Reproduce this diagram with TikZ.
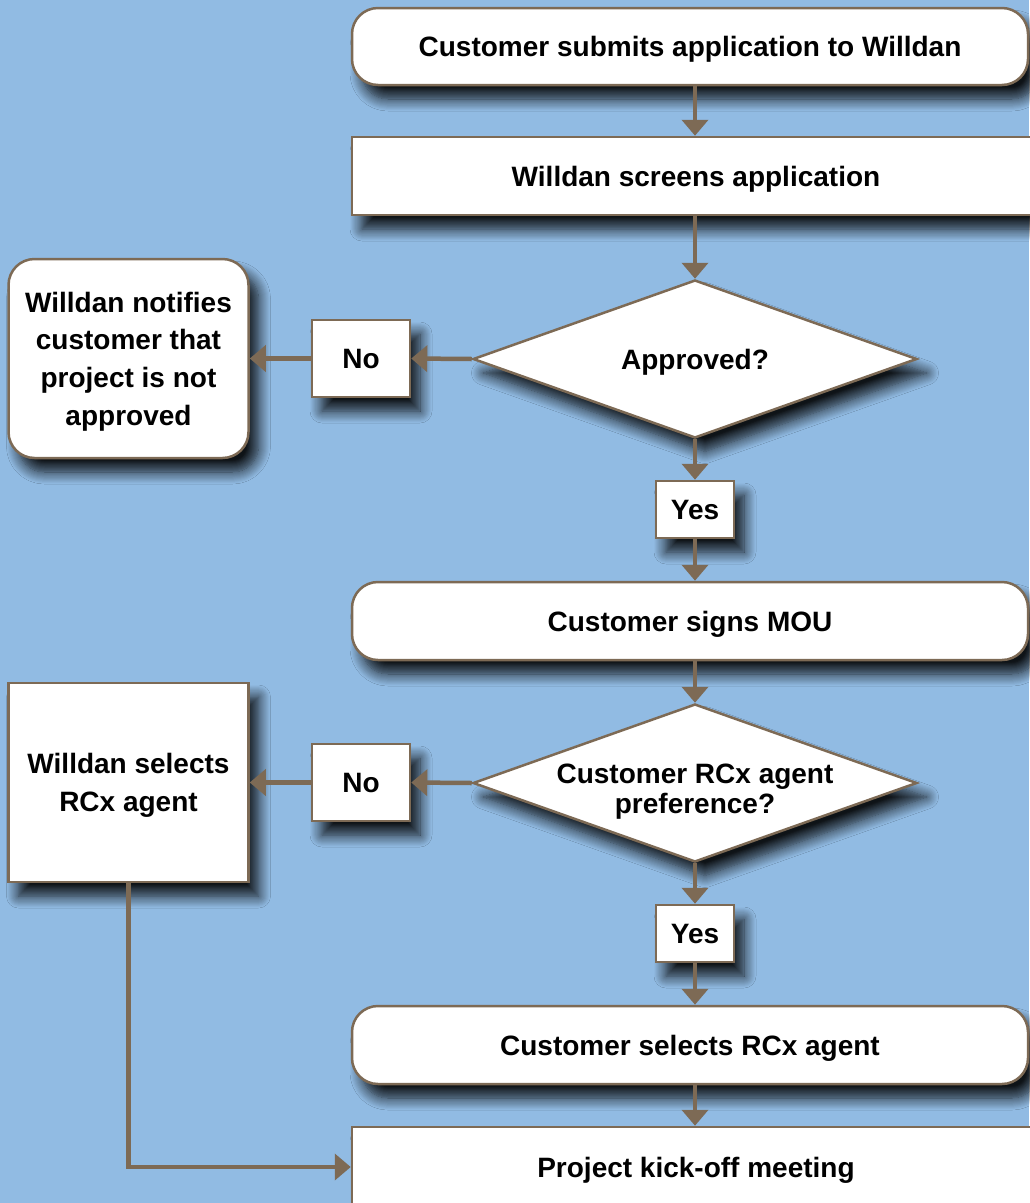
\documentclass[tikz,border=0pt]{standalone}
\usepackage{fontspec}
\setmainfont{Liberation Sans}
\usetikzlibrary{shapes.geometric,arrows.meta,shadows.blur}
\definecolor{bg}{RGB}{145,187,227}
\definecolor{brd}{RGB}{125,106,85}
\begin{document}
\begin{tikzpicture}[x=1pt,y=-1pt,
  shad/.style={blur shadow={shadow xshift=10pt,shadow yshift=-14pt,shadow blur radius=12pt,shadow blur steps=12,shadow opacity=90}},
  box/.style={shad,draw=brd,line width=2.5pt,fill=white,align=center,inner sep=0pt,text depth=0pt,
    font=\fontsize{28}{37.7}\selectfont\bfseries},
  rbox/.style={box,rounded corners=26pt},
  dia/.style={shad,diamond,draw=brd,line width=2.5pt,fill=white,inner sep=0pt,
    minimum width=444pt,minimum height=158pt},
  lbl/.style={align=center,inner sep=0pt,font=\fontsize{28}{30}\selectfont\bfseries},
  arr/.style={draw=brd,line width=4.5pt,-{Triangle[length=16pt,width=26pt]}}
]
\useasboundingbox (0,0) rectangle (1029,1203);
\fill[bg] (0,0) rectangle (1029,1203);
\coordinate (col) at (695,0);

\node[rbox,minimum width=676pt,minimum height=77pt] (n1) at (690,46.5) {Customer submits application to Willdan};
\node[box,minimum width=688pt,minimum height=78pt] (n2) at (696,176) {Willdan screens application};
\node[dia,label={[lbl,yshift=-3pt]center:Approved?}] (d1) at (695,359) {};
\node[box,minimum width=98pt,minimum height=77pt] (no1) at (361,358.5) {No};
\node[rbox,minimum width=240pt,minimum height=199pt] (notify) at (128.5,358.5) {Willdan notifies\\customer that\\project is not\\approved};
\node[box,minimum width=78pt,minimum height=57pt] (yes1) at (695,509.5) {Yes};
\node[rbox,minimum width=676pt,minimum height=78pt] (mou) at (690,621) {Customer signs MOU};
\node[dia,label={[lbl,yshift=-9pt]center:{Customer RCx agent\\preference?}}] (d2) at (695,783) {};
\node[box,minimum width=98pt,minimum height=77pt] (no2) at (361,782.5) {No};
\node[box,minimum width=240pt,minimum height=199pt] (sel) at (128.5,782.5) {Willdan selects\\RCx agent};
\node[box,minimum width=78pt,minimum height=57pt] (yes2) at (695,933.5) {Yes};
\node[rbox,minimum width=676pt,minimum height=78pt] (cust) at (690,1045) {Customer selects RCx agent};
\node[box,minimum width=688pt,minimum height=80pt] (kick) at (696,1167) {Project kick-off meeting};

\draw[arr] (n1.south -| col) -- (n2.north -| col);
\draw[arr] (n2.south -| col) -- (d1.north);
\draw[arr] (d1.west) -- (no1.east);
\draw[arr] (no1.west) -- (notify.east);
\draw[arr] (d1.south) -- (yes1.north);
\draw[arr] (yes1.south) -- (mou.north -| col);
\draw[arr] (mou.south -| col) -- (d2.north);
\draw[arr] (d2.west) -- (no2.east);
\draw[arr] (no2.west) -- (sel.east);
\draw[arr] (d2.south) -- (yes2.north);
\draw[arr] (yes2.south) -- (cust.north -| col);
\draw[arr] (cust.south -| col) -- (kick.north -| col);
\draw[arr] (sel.south) |- (kick.west);
\end{tikzpicture}
\end{document}
